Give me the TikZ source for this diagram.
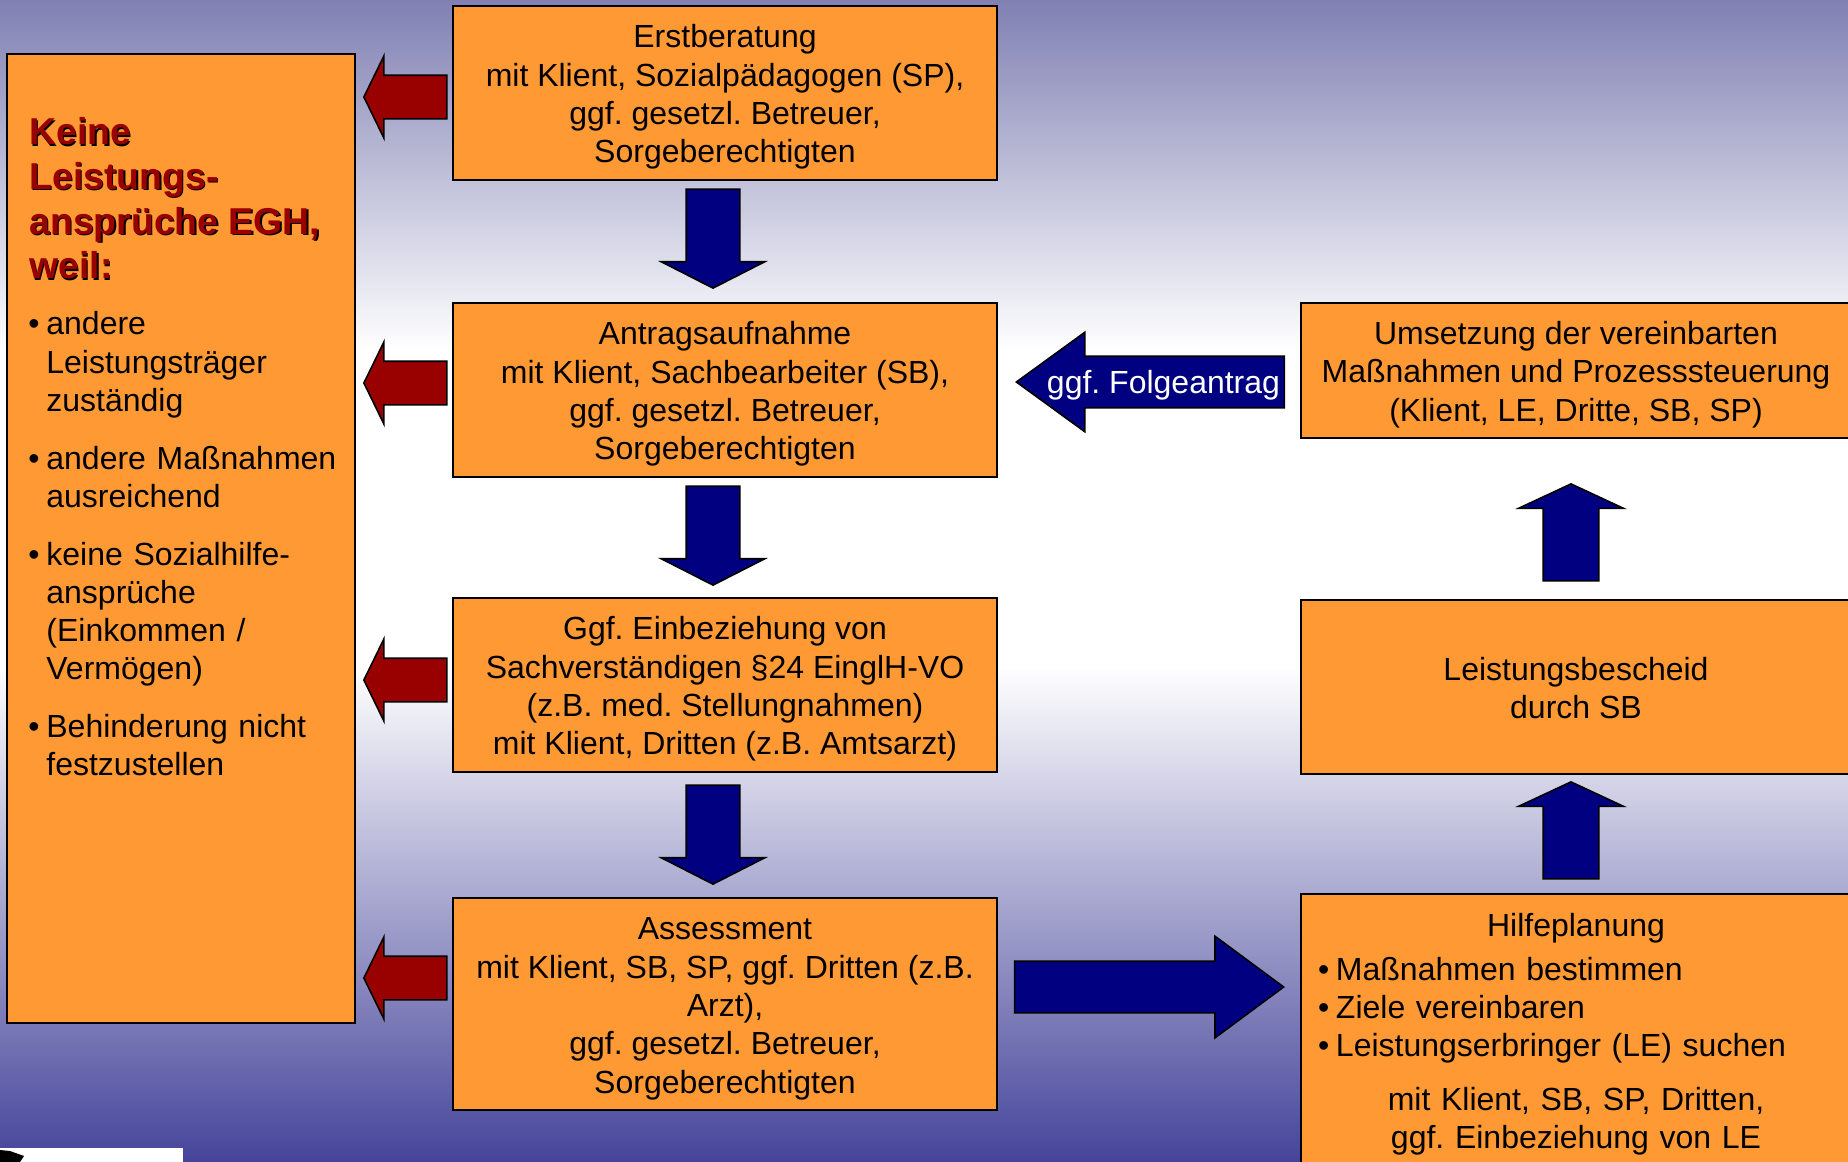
\documentclass[tikz,border=0pt]{standalone}
\usepackage{fontspec}
\setmainfont{Liberation Sans}
\usetikzlibrary{shapes.arrows, positioning}
\definecolor{box-orange}{HTML}{FF9933}
\definecolor{arrow-red}{HTML}{990000}
\definecolor{arrow-blue}{HTML}{000080}
\definecolor{bgtop}{RGB}{128,128,179}
\definecolor{bgbottom}{RGB}{69,68,154}
\pgfdeclareverticalshading{bgshade}{100bp}{color(0bp)=(bgbottom); color(25bp)=(bgbottom); color(46.3bp)=(white); color(59.9bp)=(white); color(75bp)=(bgtop); color(100bp)=(bgtop)}
\newcommand{\boxfont}{\fontsize{16}{19.15}\selectfont\frenchspacing}
\newcommand{\headfont}{\fontsize{18.7}{22.4}\selectfont\bfseries}
\newcommand{\boxstrut}{\rule[-3.6pt]{0pt}{19.6pt}}
\newcommand{\bulitem}[1]{\par\hangindent=9pt\hangafter=1\noindent\makebox[9pt][l]{\textbullet}#1\par}
\setlength{\parindent}{0pt}

\begin{document}
\begin{tikzpicture}[
    x=0.5pt, y=0.5pt,
    box/.style={draw, line width=1pt, fill=box-orange, align=center, font=\boxfont, inner sep=0pt,
        execute at end node=\boxstrut},
    head/.style={anchor=north west, align=left, font=\headfont, inner sep=0pt},
    redarrow/.style={single arrow, draw, line width=0.8pt, fill=arrow-red, inner xsep=0pt, inner ysep=10.5pt,
        anchor=tip, minimum height=41.5pt, single arrow head extend=9.6pt,
        single arrow tip angle=128, shape border rotate=180},
    downarrow/.style={single arrow, draw, line width=0.8pt, fill=arrow-blue, inner xsep=13pt, inner ysep=0pt,
        anchor=tip, minimum height=49.5pt, single arrow head extend=12.5pt,
        single arrow tip angle=126, shape border rotate=270},
    uparrow/.style={single arrow, draw, line width=0.8pt, fill=arrow-blue, inner xsep=13.5pt, inner ysep=0pt,
        anchor=tip, minimum height=48.5pt, single arrow head extend=12.3pt,
        single arrow tip angle=130, shape border rotate=90},
    bigarrow/.style={single arrow, draw, line width=0.8pt, fill=arrow-blue, inner xsep=0pt, inner ysep=12.5pt,
        anchor=tip, minimum height=134.5pt, single arrow head extend=12.5pt,
        single arrow tip angle=73}
]
    \clip (0,0) rectangle (1848,-1162);
    \shade[shading=bgshade] (0,0) rectangle (1848,-1162);

    % left column
    \node (keine) [box, minimum width=174pt, minimum height=484.5pt] at (181,-538.5) {};
    \node (headshadow) [head, text=black] at (30.5,-118.5) {Keine\\Leistungs-\\ansprüche EGH,\\weil:};
    \node (head) [head, text=arrow-red] at (29,-117) {Keine\\Leistungs-\\ansprüche EGH,\\weil:};
    \node (gruende) [anchor=north west, text width=160pt, font=\boxfont, inner sep=0pt] at (28,-296) {%
        \bulitem{andere\newline Leistungsträger\newline zuständig}\vspace{9.7pt}
        \bulitem{andere Maßnahmen\newline ausreichend}\vspace{9.7pt}
        \bulitem{keine Sozialhilfe-\newline ansprüche\newline (Einkommen /\newline Vermögen)}\vspace{9.7pt}
        \bulitem{Behinderung nicht\newline festzustellen}};

    % middle column
    \node (erst) [box, minimum width=272pt, minimum height=87pt] at (725,-93)
        {\boxstrut Erstberatung\\mit Klient, Sozialpädagogen (SP),\\ggf. gesetzl. Betreuer,\\Sorgeberechtigten};
    \node (antrag) [box, minimum width=272pt, minimum height=87pt, below=60.5pt of erst]
        {\boxstrut Antragsaufnahme\\mit Klient, Sachbearbeiter (SB),\\ggf. gesetzl. Betreuer,\\Sorgeberechtigten};
    \node (gutachten) [box, minimum width=272pt, minimum height=87pt, below=59.5pt of antrag]
        {\boxstrut Ggf. Einbeziehung von\\Sachverständigen §24 EinglH-VO\\(z.B. med. Stellungnahmen)\\mit Klient, Dritten (z.B. Amtsarzt)};
    \node (assess) [box, minimum width=272pt, minimum height=106pt, below=62pt of gutachten]
        {\boxstrut Assessment\\mit Klient, SB, SP, ggf. Dritten (z.B.\\Arzt),\\ggf. gesetzl. Betreuer,\\Sorgeberechtigten};

    % right column
    \node (umsetzung) [box, minimum width=275pt, minimum height=67.5pt] at (1576,-370.5)
        {\boxstrut Umsetzung der vereinbarten\\Maßnahmen und Prozesssteuerung\\(Klient, LE, Dritte, SB, SP)};
    \node (bescheid) [box, minimum width=275pt, minimum height=87pt, below=80pt of umsetzung]
        {\boxstrut Leistungsbescheid\\durch SB};
    \node (hilfe) [box, minimum width=275pt, minimum height=150pt, below=59pt of bescheid] {};
    \node (hilfetext) [anchor=north, text width=258pt, font=\boxfont, inner sep=0pt] at ([yshift=-10.2pt]hilfe.north) {%
        {\centering Hilfeplanung\par}\vspace{2.5pt}
        \bulitem{Maßnahmen bestimmen}
        \bulitem{Ziele vereinbaren}
        \bulitem{Leistungserbringer (LE) suchen}\vspace{7.5pt}
        {\centering mit Klient, SB, SP, Dritten,\\ggf. Einbeziehung von LE\par}};

    % arrows
    \node (ra1) [redarrow] at (363,-97) {};
    \node (ra2) [redarrow] at (363,-383) {};
    \node (ra3) [redarrow] at (363,-680) {};
    \node (ra4) [redarrow] at (363,-978) {};
    \node (da1) [downarrow] at (713,-289) {};
    \node (da2) [downarrow] at (713,-586) {};
    \node (da3) [downarrow] at (713,-885) {};
    \node (ua1) [uparrow] at (1571,-483) {};
    \node (ua2) [uparrow] at (1571,-781) {};
    \node (hilfearrow) [bigarrow] at (1285,-987) {};
    \node (folge) [bigarrow, minimum height=134pt, single arrow head extend=12pt,
        single arrow tip angle=72, shape border rotate=180] at (1015,-382) {};
    \node (folgetext) [font=\boxfont, text=white, inner sep=0pt] at (1163.5,-385.5) {ggf. Folgeantrag};

    % logo remnant
    \fill[white] (0,-1148) rectangle (183,-1162);
    \fill[black] (0,-1150) -- (10,-1151) -- (24,-1156) -- (20,-1162) -- (0,-1162) -- cycle;
\end{tikzpicture}
\end{document}
